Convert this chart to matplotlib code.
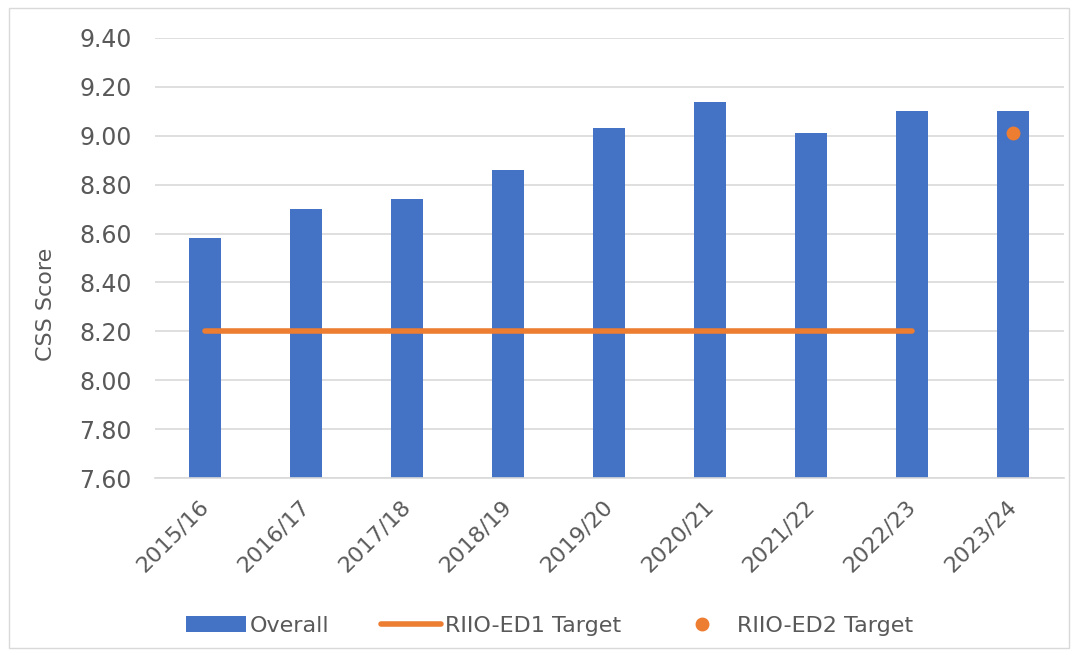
import matplotlib.pyplot as plt
import matplotlib.patches as mpatches
import numpy as np

# datos
years = ['2015/16', '2016/17', '2017/18', '2018/19', '2019/20',
         '2020/21', '2021/22', '2022/23', '2023/24']
overall = [8.58, 8.70, 8.74, 8.86, 9.03, 9.14, 9.01, 9.10, 9.10]
ed1_target = [8.20, 8.20, 8.20, 8.20, 8.20, 8.20, 8.20, 8.20]
ed2_target = 9.01

azul = '#4472c4'
naranja = '#ed7d31'
gris = '#595959'

plt.rcParams['font.family'] = ['DejaVu Sans']

fig = plt.figure(figsize=(10.77, 6.55), dpi=100)
ax = fig.add_axes([0.1435, 0.2702, 0.844, 0.6718])

x = np.arange(len(years))
ax.bar(x, overall, width=0.32, color=azul, label='Overall', zorder=2)
ax.plot(x[:len(ed1_target)], ed1_target, color=naranja, linewidth=4,
        solid_capstyle='round', label='RIIO-ED1 Target', zorder=3)
ax.plot([x[-1]], [ed2_target], 'o', color=naranja, markersize=9,
        label='RIIO-ED2 Target', zorder=4)

ax.set_xlim(-0.5, len(years) - 0.5)
ax.set_ylim(7.6, 9.4)
ax.set_yticks(np.arange(7.6, 9.41, 0.2))
ax.set_yticklabels(['%.2f' % v for v in np.arange(7.6, 9.41, 0.2)])
ax.set_xticks(x)
ax.set_xticklabels(years, rotation=45, ha='right', va='center',
                   rotation_mode='anchor')

ax.grid(axis='y', color='#d9d9d9', linewidth=1.2, zorder=0)
ax.set_axisbelow(True)
for s in ['top', 'right', 'left']:
    ax.spines[s].set_visible(False)
ax.spines['bottom'].set_color('#d9d9d9')
ax.spines['bottom'].set_linewidth(1.2)
ax.tick_params(axis='both', length=0, colors=gris)
ax.tick_params(axis='y', labelsize=17, pad=16.5)
ax.tick_params(axis='x', labelsize=16, pad=18)
ax.set_ylabel('CSS Score', fontsize=16, color=gris)
ax.yaxis.set_label_coords(-0.108, 0.395)

handles, labels = ax.get_legend_handles_labels()
orden = [labels.index('Overall'), labels.index('RIIO-ED1 Target'),
         labels.index('RIIO-ED2 Target')]
leg = fig.legend([handles[i] for i in orden], [labels[i] for i in orden],
                 loc='center', bbox_to_anchor=(0.51, 0.045), ncol=3,
                 frameon=False, fontsize=16, handlelength=2.7,
                 columnspacing=2.3, handletextpad=0.2)
for t in leg.get_texts():
    t.set_color(gris)

# borde del grafico
fig.patches.append(mpatches.Rectangle((0.008, 0.01), 0.985, 0.978,
                                      transform=fig.transFigure, fill=False,
                                      edgecolor='#d9d9d9', linewidth=1))

fig.savefig('out.png', dpi=100)
